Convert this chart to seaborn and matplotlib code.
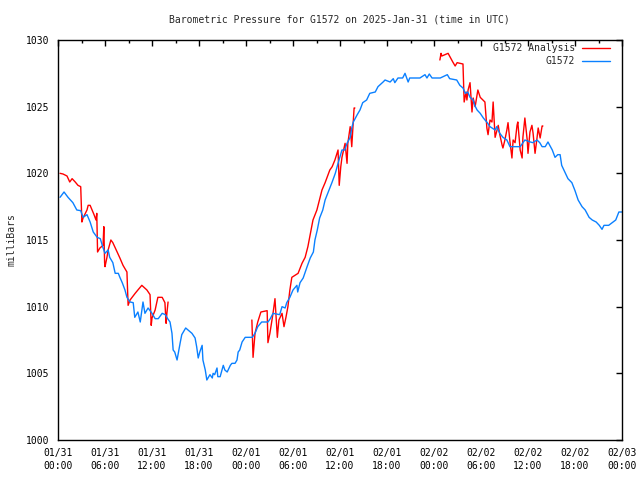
import matplotlib
matplotlib.use('Agg')
import matplotlib.pyplot as plt
import seaborn as sns
import pandas as pd
from matplotlib.ticker import MultipleLocator

# hours since 2025-01-31 00:00 UTC, pressure in milliBars
station_hours = [0.26, 0.77, 1.28, 1.9, 2.4, 2.9, 3.2, 3.7, 4.1, 4.5, 5.0, 5.4, 5.7, 6.0, 6.4, 6.6,
                 7.0, 7.3, 7.7, 7.9, 8.2, 8.55, 8.8, 9.2, 9.6, 9.8, 10.2, 10.5, 10.85, 11.1, 11.5,
                 12.0, 12.4, 12.8, 13.3, 13.7, 14.0, 14.3, 14.55, 14.7, 14.9, 15.2, 15.6, 15.8,
                 16.3, 16.6, 17.1, 17.5, 17.7, 17.9, 18.1, 18.4, 18.5, 18.8, 19.0, 19.4, 19.7,
                 19.8, 20.0, 20.3, 20.4, 20.7, 21.1, 21.3, 21.6, 22.0, 22.2, 22.6, 22.85, 23.0,
                 23.2, 23.5, 23.9, 24.8, 25.15, 25.5, 26.0, 26.8, 27.1, 27.45, 28.3, 28.6, 29.0,
                 29.2, 29.6, 30.0, 30.5, 30.6, 30.9, 31.3, 31.8, 32.2, 32.6, 32.8, 33.1, 33.4,
                 33.8, 34.1, 34.5, 35.0, 35.4, 35.75, 36.25, 36.6, 36.9, 37.3, 37.5, 37.7, 38.2,
                 38.55, 38.9, 39.4, 39.8, 40.5, 40.85, 41.5, 41.75, 42.4, 42.8, 43.0, 43.4, 44.0,
                 44.3, 44.7, 44.9, 46.2, 46.85, 47.1, 47.4, 47.75, 48.8, 49.7, 50.0, 50.9, 51.3,
                 51.7, 52.0, 52.3, 52.6, 53.0, 53.2, 53.5, 53.9, 54.3, 54.8, 55.15, 55.8, 56.0,
                 56.4, 56.8, 57.3, 57.7, 59.0, 59.6, 60.3, 60.6, 61.15, 61.5, 61.8, 62.2, 62.55,
                 63.1, 63.45, 63.8, 64.1, 64.3, 64.7, 65.1, 65.6, 66.0, 66.4, 66.9, 67.3, 67.8,
                 68.2, 68.7, 69.1, 69.45, 69.7, 70.3, 70.85, 71.2, 71.6, 72.0]
station_mb = [1018.2, 1018.6, 1018.2, 1017.8, 1017.25, 1017.2, 1016.7, 1016.9, 1016.35, 1015.6,
              1015.2, 1015.1, 1014.5, 1014.0, 1014.25, 1013.7, 1013.3, 1012.5, 1012.5, 1012.2,
              1011.8, 1011.25, 1010.7, 1010.35, 1010.3, 1009.2, 1009.6, 1008.85, 1010.35, 1009.5,
              1009.9, 1009.5, 1009.1, 1009.1, 1009.5, 1009.4, 1009.1, 1008.85, 1008.0, 1006.75,
              1006.6, 1006.0, 1007.3, 1007.9, 1008.4, 1008.25, 1008.0, 1007.65, 1007.0, 1006.15,
              1006.6, 1007.1, 1006.0, 1005.25, 1004.5, 1004.9, 1004.65, 1005.0, 1004.9, 1005.4,
              1004.75, 1004.75, 1005.6, 1005.25, 1005.1, 1005.6, 1005.75, 1005.75, 1006.0, 1006.6,
              1006.75, 1007.35, 1007.7, 1007.7, 1008.0, 1008.5, 1008.85, 1008.85, 1009.1, 1009.5,
              1009.4, 1010.0, 1009.9, 1010.3, 1010.7, 1011.25, 1011.6, 1011.1, 1011.8, 1012.15,
              1013.0, 1013.65, 1014.1, 1015.0, 1015.75, 1016.65, 1017.25, 1018.0, 1018.6, 1019.35,
              1020.0, 1020.75, 1021.75, 1021.75, 1022.25, 1022.7, 1023.4, 1023.85, 1024.4, 1024.75,
              1025.3, 1025.5, 1026.0, 1026.1, 1026.5, 1026.85, 1027.0, 1026.85, 1027.1, 1026.8,
              1027.15, 1027.15, 1027.5, 1026.85, 1027.15, 1027.15, 1027.4, 1027.15, 1027.45,
              1027.15, 1027.15, 1027.4, 1027.1, 1027.0, 1026.6, 1026.4, 1026.0, 1026.1, 1025.7,
              1025.5, 1025.1, 1024.75, 1024.5, 1024.15, 1023.8, 1023.5, 1023.25, 1023.5, 1023.0,
              1022.7, 1022.5, 1022.0, 1022.0, 1022.5, 1022.35, 1022.3, 1022.5, 1022.3, 1022.0,
              1022.0, 1022.35, 1021.75, 1021.2, 1021.4, 1021.4, 1020.6, 1020.1, 1019.6, 1019.3,
              1018.7, 1018.0, 1017.5, 1017.25, 1016.7, 1016.5, 1016.35, 1016.1, 1015.8, 1016.1,
              1016.1, 1016.35, 1016.5, 1017.1, 1017.1]

# analysis comes in three separate runs
analysis1_hours = [0.26, 0.64, 1.15, 1.5, 1.8, 2.2, 2.55, 2.9, 3.05, 3.2, 3.7, 3.85, 4.1, 4.35, 4.6,
                   4.85, 4.95, 5.05, 5.35, 5.75, 5.85, 5.95, 6.0, 6.25, 6.4, 6.75, 7.0, 7.55, 7.9,
                   8.3, 8.8, 8.95, 9.2, 9.85, 10.2, 10.7, 11.35, 11.75, 11.9, 12.0, 12.4, 12.75,
                   13.3, 13.65, 13.8, 13.9, 14.05]
analysis1_mb = [1020.0, 1019.95, 1019.8, 1019.35, 1019.6, 1019.35, 1019.1, 1019.0, 1016.35, 1016.65,
                1017.25, 1017.6, 1017.6, 1017.25, 1016.9, 1016.5, 1017.0, 1014.1, 1014.4, 1014.6,
                1016.0, 1013.3, 1013.0, 1013.7, 1014.25, 1015.0, 1014.8, 1014.1, 1013.65, 1013.1,
                1012.6, 1010.1, 1010.5, 1011.0, 1011.25, 1011.6, 1011.25, 1010.9, 1008.6, 1009.15,
                1009.75, 1010.7, 1010.7, 1010.3, 1008.75, 1009.5, 1010.35]
analysis2_hours = [24.75, 24.9, 25.15, 25.5, 25.9, 26.7, 26.8, 27.05, 27.45, 27.7, 28.0, 28.2, 28.6,
                   28.85, 29.1, 29.35, 29.6, 29.85, 30.65, 31.15, 31.55, 31.9, 32.55, 33.05, 33.7,
                   34.1, 34.7, 35.0, 35.35, 35.75, 35.9, 36.1, 36.25, 36.65, 36.9, 37.0, 37.3, 37.5,
                   37.8, 37.9]
analysis2_mb = [1009.0, 1006.2, 1008.0, 1008.85, 1009.6, 1009.7, 1007.3, 1008.0, 1009.5, 1010.6,
                1007.7, 1009.0, 1009.5, 1008.5, 1009.2, 1010.0, 1011.25, 1012.2, 1012.5, 1013.25,
                1013.7, 1014.5, 1016.5, 1017.25, 1018.75, 1019.3, 1020.25, 1020.5, 1021.0, 1021.75,
                1019.1, 1020.5, 1021.2, 1022.25, 1020.75, 1022.25, 1023.5, 1022.0, 1024.9, 1024.9]
analysis3_hours = [48.75, 48.9, 49.0, 49.8, 50.4, 50.7, 50.95, 51.7, 51.85, 52.1, 52.2, 52.35, 52.6,
                   52.85, 53.0, 53.25, 53.6, 53.9, 54.5, 54.75, 54.9, 55.15, 55.4, 55.55, 55.8,
                   56.05, 56.2, 56.4, 56.7, 56.8, 57.05, 57.3, 57.45, 57.7, 57.95, 58.1, 58.35,
                   58.6, 58.7, 59.0, 59.25, 59.35, 59.6, 59.9, 60.0, 60.25, 60.5, 60.65, 60.9,
                   61.15, 61.3, 61.55, 61.8, 61.9]
analysis3_mb = [1028.5, 1029.0, 1028.8, 1029.0, 1028.35, 1028.05, 1028.3, 1028.2, 1025.35, 1026.1,
                1025.5, 1026.25, 1026.8, 1024.6, 1025.65, 1025.0, 1026.25, 1025.7, 1025.35, 1023.4,
                1022.9, 1024.0, 1023.85, 1025.35, 1022.7, 1023.25, 1023.6, 1022.9, 1022.1, 1021.9,
                1022.5, 1023.25, 1023.8, 1022.35, 1021.15, 1022.5, 1022.3, 1023.6, 1023.85, 1021.75,
                1021.15, 1022.7, 1024.15, 1022.5, 1021.5, 1023.1, 1023.6, 1023.0, 1021.5, 1022.65,
                1023.4, 1022.65, 1023.55, 1023.55]

tick_hours = [0, 6, 12, 18, 24, 30, 36, 42, 48, 54, 60, 66, 72]
tick_labels = ['01/31\n00:00', '01/31\n06:00', '01/31\n12:00', '01/31\n18:00',
               '02/01\n00:00', '02/01\n06:00', '02/01\n12:00', '02/01\n18:00',
               '02/02\n00:00', '02/02\n06:00', '02/02\n12:00', '02/02\n18:00',
               '02/03\n00:00']

sns.set_style('white')
plt.rcParams['font.family'] = ['DejaVu Sans Mono']
plt.rcParams['font.size'] = 7

fig = plt.figure(figsize=(6.4, 4.8), dpi=100)
ax = fig.add_axes([58 / 640, 40 / 480, 564 / 640, 400 / 480])

red = '#ff0000'
blue = '#0a80ff'

segments = [(analysis1_hours, analysis1_mb), (analysis2_hours, analysis2_mb),
            (analysis3_hours, analysis3_mb)]
for i, (h, p) in enumerate(segments):
    seg = pd.DataFrame({'hours': h, 'mb': p})
    sns.lineplot(data=seg, x='hours', y='mb', ax=ax, color=red, linewidth=1.0,
                 sort=False, label='G1572 Analysis' if i == 0 else None)

df = pd.DataFrame({'hours': station_hours, 'mb': station_mb})
sns.lineplot(data=df, x='hours', y='mb', ax=ax, color=blue, linewidth=1.0,
             sort=False, label='G1572')

ax.set_xlim(0, 72)
ax.set_ylim(1000, 1030)
ax.set_xticks(tick_hours)
ax.set_xticklabels(tick_labels, linespacing=1.35)
ax.xaxis.set_minor_locator(MultipleLocator(3))
ax.yaxis.set_major_locator(MultipleLocator(5))
ax.set_xlabel('')
ax.set_ylabel('')
ax.tick_params(which='both', direction='in', top=True, right=True, colors='black',
               labelsize=7)
ax.tick_params(which='major', length=4, width=1)
ax.tick_params(which='minor', length=2, width=1)
ax.tick_params(axis='x', pad=6)
ax.tick_params(axis='y', pad=6)
for s in ax.spines.values():
    s.set_color('black')
    s.set_linewidth(1)
    s.set_visible(True)

leg = ax.legend(loc='upper right', bbox_to_anchor=(1 - 12 / 564, 1 - 3 / 400),
                frameon=False, markerfirst=False, borderaxespad=0, borderpad=0,
                handlelength=2.9, handletextpad=0.7, labelspacing=0.35, fontsize=7)

fig.text(339 / 640, 1 - 19 / 480, 'Barometric Pressure for G1572 on 2025-Jan-31 (time in UTC)',
         ha='center', va='center', fontsize=7)
fig.text(12 / 640, 0.5, 'milliBars', rotation=90, ha='center', va='center', fontsize=7)

fig.savefig('out.png', dpi=100)
